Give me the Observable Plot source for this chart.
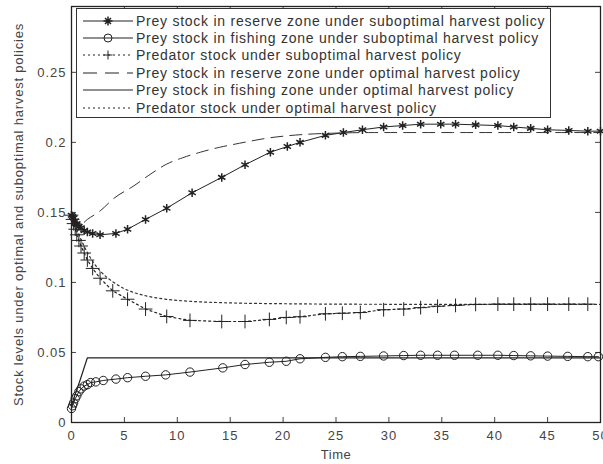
<!DOCTYPE html>
<html>
<head>
<meta charset="utf-8">
<script src="https://cdn.jsdelivr.net/npm/d3@7"></script>
<script src="https://cdn.jsdelivr.net/npm/@observablehq/plot@0.6"></script>
<style>
  html, body { margin: 0; padding: 0; background: white; }
  #wrap { position: relative; width: 603px; height: 464px; overflow: hidden; }
  #legend { position: absolute; left: 76px; top: 8px; width: 475px; height: 110px; border: 1px solid #333;
            background: white; box-sizing: border-box; padding-top: 3px; font-family: Arial, "Liberation Sans", sans-serif;
            font-size: 14px; letter-spacing: 0.75px; color: #333; }
  .row { height: 17.4px; display: flex; align-items: center; white-space: nowrap; }
  .row svg { width: 52px; height: 14px; margin-left: 5px; margin-right: 2px; flex: none; }
</style>
</head>
<body>
<div id="wrap"></div>
<script>
// ---- data ----
const xTicks = [0, 5, 10, 15, 20, 25, 30, 35, 40, 45, 50];
const yTicks = [0, 0.05, 0.1, 0.15, 0.2, 0.25];
const xLabel = "Time";
const yLabel = "Stock levels under optimal and suboptimal harvest policies";
const seriesNames = [
  "Prey stock in reserve zone under suboptimal harvest policy",
  "Prey stock in fishing zone under suboptimal harvest policy",
  "Predator stock under suboptimal harvest policy",
  "Prey stock in reserve zone under optimal harvest policy",
  "Prey stock in fishing zone under optimal harvest policy",
  "Predator stock under optimal harvest policy"
];

// Prey stock in reserve zone, suboptimal
const tA = [0, 0.1, 0.2, 0.35, 0.5, 0.7, 0.9, 1.2, 1.5, 2.0, 2.7, 4.2, 5.3, 7.0, 9.0, 11.4, 14.2, 16.4, 18.8, 20.4, 21.6, 24.0, 25.7, 27.5, 29.5, 31.3, 33.0, 34.9, 36.3, 38.2, 40.3, 41.8, 43.4, 45.0, 47.0, 48.8, 50];
const vA = [0.148, 0.147, 0.146, 0.144, 0.142, 0.140, 0.139, 0.137, 0.136, 0.135, 0.134, 0.135, 0.138, 0.145, 0.153, 0.164, 0.175, 0.184, 0.193, 0.197, 0.200, 0.205, 0.207, 0.209, 0.211, 0.212, 0.213, 0.213, 0.213, 0.2125, 0.212, 0.211, 0.210, 0.209, 0.2085, 0.208, 0.208];
// Prey stock in fishing zone, suboptimal
const tB = [0, 0.1, 0.2, 0.35, 0.5, 0.7, 0.9, 1.2, 1.5, 1.8, 2.3, 3.0, 4.2, 5.3, 7.0, 8.9, 11.2, 14.3, 16.4, 18.7, 20.3, 21.6, 24.0, 25.6, 27.3, 29.5, 31.4, 33.0, 34.6, 36.2, 38.4, 40.3, 41.8, 43.4, 45.0, 46.9, 48.8, 49.8];
const vB = [0.010, 0.012, 0.014, 0.017, 0.019, 0.022, 0.024, 0.026, 0.027, 0.0285, 0.029, 0.030, 0.031, 0.032, 0.033, 0.034, 0.036, 0.039, 0.0414, 0.043, 0.0437, 0.0455, 0.0465, 0.047, 0.0472, 0.0475, 0.0478, 0.048, 0.048, 0.048, 0.048, 0.048, 0.0478, 0.0476, 0.0474, 0.0472, 0.047, 0.047];
// Predator stock, suboptimal
const tC = [0, 0.1, 0.2, 0.35, 0.5, 0.7, 0.9, 1.2, 1.5, 2.0, 2.7, 3.9, 5.3, 7.0, 9.0, 11.2, 14.2, 16.4, 18.7, 20.3, 21.6, 24.0, 25.6, 27.3, 29.5, 31.4, 33.0, 34.6, 36.3, 38.2, 40.3, 41.8, 43.4, 45.0, 47.0, 48.8];
const vC = [0.148, 0.145, 0.142, 0.138, 0.134, 0.130, 0.126, 0.121, 0.116, 0.110, 0.103, 0.094, 0.088, 0.081, 0.0757, 0.0729, 0.0721, 0.0721, 0.0736, 0.075, 0.0755, 0.0776, 0.078, 0.0785, 0.0805, 0.081, 0.082, 0.083, 0.0836, 0.0843, 0.0845, 0.0845, 0.0845, 0.0845, 0.0845, 0.0845];
// Prey stock in reserve zone, optimal
const tD = [0, 0.3, 0.8, 1.5, 2.7, 4, 5.9, 7.5, 9, 10.5, 12.2, 14, 15.3, 17, 18.5, 20.4, 22.3, 25, 28.3, 32, 36, 40, 45, 50];
const vD = [0.148, 0.143, 0.141, 0.145, 0.151, 0.160, 0.169, 0.1775, 0.1845, 0.189, 0.193, 0.1965, 0.1985, 0.201, 0.203, 0.2047, 0.2058, 0.2066, 0.207, 0.207, 0.207, 0.207, 0.207, 0.207];
// Prey stock in fishing zone, optimal
const tE = [0, 0.3, 0.8, 1.5, 50];
const vE = [0.012, 0.019, 0.030, 0.0462, 0.0462];
// Predator stock, optimal
const tF = [0, 0.5, 1, 2, 3, 4, 5, 6, 7, 8, 10, 12, 14, 16, 20, 25, 30, 40, 50];
const vF = [0.148, 0.138, 0.129, 0.115, 0.106, 0.1, 0.0955, 0.0925, 0.0905, 0.089, 0.0872, 0.0862, 0.0856, 0.0852, 0.0848, 0.0845, 0.0844, 0.0843, 0.0843];

const rows = (t, v) => t.map((x, i) => ({t: x, v: v[i]}));
const A = rows(tA, vA), B = rows(tB, vB), C = rows(tC, vC), D = rows(tD, vD), E = rows(tE, vE), F = rows(tF, vF);

const ink = "#222";
const W = 603, H = 464, mL = 71, mR = 3, mT = 6, mB = 42;
const fw = W - mL - mR, fh = H - mT - mB, tk = 5;

const chart = Plot.plot({
  width: W, height: H,
  marginLeft: mL, marginRight: mR, marginTop: mT, marginBottom: mB,
  style: {fontFamily: "Arial, 'Liberation Sans', sans-serif", fontSize: "13px", color: "#444", background: "white"},
  x: {domain: [0, 50], ticks: xTicks, tickFormat: d => String(d), tickSize: 0, tickPadding: 8,
      label: xLabel, labelAnchor: "center", labelOffset: 36, labelArrow: "none"},
  y: {domain: [0, 0.297], ticks: yTicks, tickFormat: d => String(d), tickSize: 0, tickPadding: 5,
      label: yLabel, labelAnchor: "center", labelOffset: 58, labelArrow: "none"},
  marks: [
    Plot.tickX(xTicks, {x: d => d, insetTop: fh - tk, stroke: "#444"}),
    Plot.tickX(xTicks, {x: d => d, insetBottom: fh - tk, stroke: "#444"}),
    Plot.tickY(yTicks, {y: d => d, insetRight: fw - tk, stroke: "#444"}),
    Plot.tickY(yTicks, {y: d => d, insetLeft: fw - tk, stroke: "#444"}),
    Plot.line(D, {x: "t", y: "v", stroke: "#333", strokeWidth: 1, strokeDasharray: "12,7", curve: "monotone-x"}),
    Plot.line(F, {x: "t", y: "v", stroke: "#333", strokeWidth: 1.2, strokeDasharray: "2,3", curve: "monotone-x"}),
    Plot.line(E, {x: "t", y: "v", stroke: ink, strokeWidth: 1.2}),
    Plot.line(A, {x: "t", y: "v", stroke: ink, strokeWidth: 1}),
    Plot.dot(A, {x: "t", y: "v", symbol: "asterisk", r: 4, stroke: ink, strokeWidth: 1.5}),
    Plot.line(B, {x: "t", y: "v", stroke: ink, strokeWidth: 1}),
    Plot.dot(B, {x: "t", y: "v", symbol: "circle", r: 4.2, stroke: ink, fill: "none", strokeWidth: 1}),
    Plot.line(C, {x: "t", y: "v", stroke: ink, strokeWidth: 1.2, strokeDasharray: "2,3"}),
    Plot.dot(C, {x: "t", y: "v", symbol: "plus", r: 4.5, stroke: ink, strokeWidth: 1}),
    Plot.frame({stroke: "#222", strokeWidth: 1.3})
  ]
});

const wrap = document.getElementById("wrap");
wrap.appendChild(chart);

// style tweaks to mimic the reference's wide MATLAB lettering
const svg = d3.select(chart.tagName.toLowerCase() === "svg" ? chart : chart.querySelector("svg"));
svg.selectAll("[aria-label='x-axis tick label'] text, [aria-label='y-axis tick label'] text")
  .style("letter-spacing", "1px");
svg.selectAll("[aria-label='y-axis label'] text").style("letter-spacing", "0.8px").style("font-size", "13px");
svg.selectAll("[aria-label='x-axis label'] text").style("letter-spacing", "0.5px").style("font-size", "13px");
// strip any arrow glyphs if the library still adds them
svg.selectAll("[aria-label='x-axis label'] text, [aria-label='y-axis label'] text")
  .each(function() { this.textContent = this.textContent.replace(/\s*[→↑←↓]\s*/g, ""); });

// legend overlay (inside the axes, as in the reference)
const legend = d3.select(wrap).append("div").attr("id", "legend");
const samples = [
  {dash: null, sym: "star"},
  {dash: null, sym: "circle"},
  {dash: "2,3", sym: "plus"},
  {dash: "14,8", sym: null},
  {dash: null, sym: null},
  {dash: "2,3", sym: null}
];
seriesNames.forEach((name, i) => {
  const row = legend.append("div").attr("class", "row");
  const s = row.append("svg").attr("viewBox", "0 0 52 14");
  const sp = samples[i];
  s.append("line").attr("x1", 1).attr("x2", 51).attr("y1", 7).attr("y2", 7)
    .attr("stroke", ink).attr("stroke-width", 1.2).attr("stroke-dasharray", sp.dash);
  if (sp.sym === "star") {
    s.append("path").attr("d", "M26,2.5v9M21.5,7h9M23,4l6,6M29,4l-6,6").attr("stroke", ink).attr("stroke-width", 1.5);
  } else if (sp.sym === "circle") {
    s.append("circle").attr("cx", 26).attr("cy", 7).attr("r", 4).attr("fill", "none").attr("stroke", ink);
  } else if (sp.sym === "plus") {
    s.append("path").attr("d", "M26,2.5v9M21.5,7h9").attr("stroke", ink).attr("stroke-width", 1);
  }
  row.append("span").text(name);
});
</script>
</body>
</html>
